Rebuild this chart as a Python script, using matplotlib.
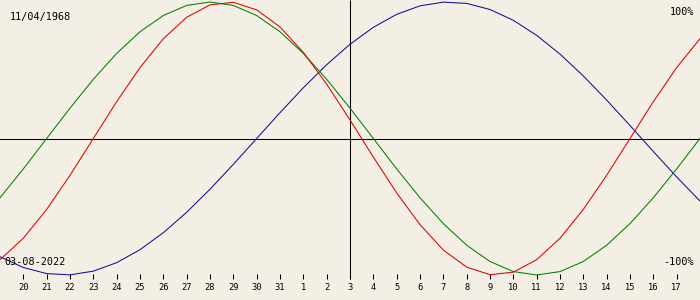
import matplotlib
matplotlib.use("Agg")
import matplotlib.pyplot as plt

# Days shown (t = 0 .. 30), 19 Jul 2022 .. 18 Aug 2022
days = list(range(31))
tick_days = list(range(1, 30))
tick_labels = ["20", "21", "22", "23", "24", "25", "26", "27", "28", "29", "30", "31",
               "1", "2", "3", "4", "5", "6", "7", "8", "9", "10", "11", "12", "13",
               "14", "15", "16", "17"]

physical = [-0.8879, -0.7308, -0.5196, -0.2698, 0.0, 0.2698, 0.5196, 0.7308, 0.8879,
            0.9791, 0.9977, 0.9423, 0.8170, 0.6311, 0.3984, 0.1362, -0.1362, -0.3984,
            -0.6311, -0.8170, -0.9423, -0.9977, -0.9791, -0.8879, -0.7308, -0.5196,
            -0.2698, 0.0, 0.2698, 0.5196, 0.7308]
emotional = [-0.4339, -0.2225, 0.0, 0.2225, 0.4339, 0.6235, 0.7818, 0.9010, 0.9749,
             1.0, 0.9749, 0.9010, 0.7818, 0.6235, 0.4339, 0.2225, 0.0, -0.2225,
             -0.4339, -0.6235, -0.7818, -0.9010, -0.9749, -1.0, -0.9749, -0.9010,
             -0.7818, -0.6235, -0.4339, -0.2225, 0.0]
intellectual = [-0.8660, -0.9450, -0.9898, -0.9989, -0.9718, -0.9096, -0.8146, -0.6901,
                -0.5406, -0.3717, -0.1893, 0.0, 0.1893, 0.3717, 0.5406, 0.6901, 0.8146,
                0.9096, 0.9718, 0.9989, 0.9898, 0.9450, 0.8660, 0.7557, 0.6182, 0.4582,
                0.2817, 0.0951, -0.0951, -0.2817, -0.4582]

today_index = 15
birth_label = "11/04/1968"
today_label = "03-08-2022"
top_label = "100%"
bottom_label = "-100%"

BG = "#F3EFE4"
W, H = 700, 300
CY, AMP = 138.5, 136.5


def py(pix):
    """pixel row (from top) -> data value"""
    return (CY - pix) / AMP


fig = plt.figure(figsize=(7, 3), dpi=100, facecolor=BG)
ax = fig.add_axes([0, 0, 1, 1])
ax.set_facecolor(BG)
ax.set_xlim(0, 30)
ax.set_ylim(py(H), py(0))
ax.axis("off")

lw = 0.75
ax.axhline(0, color="black", lw=lw, zorder=1)
ax.vlines(today_index, py(279), py(0), color="black", lw=lw, zorder=1)

ax.plot(days, intellectual, color="#101090", lw=lw, zorder=3)
ax.plot(days, emotional, color="#008000", lw=lw, zorder=3)
ax.plot(days, physical, color="#E00000", lw=lw, zorder=3)

ax.vlines(tick_days, py(279), py(274), color="black", lw=lw, zorder=2)
font = dict(family="DejaVu Sans Mono", fontsize=6.3, color="black")
for d, lab in zip(tick_days, tick_labels):
    ax.text(d, py(288), lab, ha="center", va="center", **font)

big = dict(family="DejaVu Sans Mono", fontsize=7.3, color="black")
ax.text(10 / W * 30, py(17), birth_label, ha="left", va="center", **big)
ax.text(694 / W * 30, py(12), top_label, ha="right", va="center", **big)
ax.text(4 / W * 30, py(262), today_label, ha="left", va="center", **big)
ax.text(694 / W * 30, py(262), bottom_label, ha="right", va="center", **big)

fig.savefig("out.png", dpi=100, facecolor=BG)
